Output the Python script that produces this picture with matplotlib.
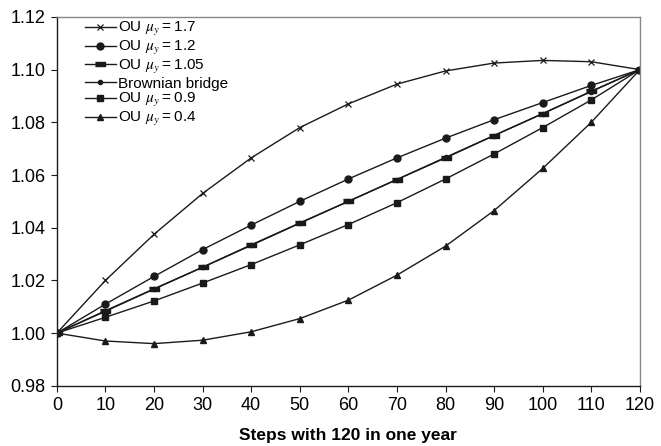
import matplotlib
matplotlib.use("Agg")
import matplotlib.pyplot as plt
from matplotlib import ticker

plt.rcParams["font.family"] = ["Liberation Sans", "DejaVu Sans"]
plt.rcParams["mathtext.fontset"] = "stix"

steps = [0, 10, 20, 30, 40, 50, 60, 70, 80, 90, 100, 110, 120]

ou_17 = [1.000, 1.020, 1.0375, 1.053, 1.0665, 1.078, 1.087, 1.0945, 1.0995, 1.1025, 1.1035, 1.103, 1.100]
ou_12 = [1.000, 1.011, 1.0215, 1.0317, 1.041, 1.050, 1.0585, 1.0665, 1.074, 1.081, 1.0875, 1.094, 1.100]
ou_105 = [1.000, 1.0085, 1.0168, 1.025, 1.0335, 1.0418, 1.050, 1.0583, 1.0665, 1.075, 1.0833, 1.0918, 1.100]
bridge = [1.000, 1.0083, 1.0167, 1.025, 1.0333, 1.0417, 1.050, 1.0583, 1.0667, 1.075, 1.0833, 1.0917, 1.100]
ou_09 = [1.000, 1.006, 1.0122, 1.019, 1.026, 1.0335, 1.0412, 1.0495, 1.0585, 1.068, 1.078, 1.0885, 1.100]
ou_04 = [1.000, 0.997, 0.996, 0.9973, 1.0005, 1.0055, 1.0125, 1.022, 1.033, 1.0465, 1.0625, 1.080, 1.100]

bar_marker = [(-2, -0.8), (2, -0.8), (2, 0.8), (-2, 0.8)]

series = [
    (ou_17, "OU $\\mu_y$\u2009=\u20091.7", dict(marker="x", ms=4.5, mew=0.9)),
    (ou_12, "OU $\\mu_y$\u2009=\u20091.2", dict(marker="o", ms=5)),
    (ou_105, "OU $\\mu_y$\u2009=\u20091.05", dict(marker=bar_marker, ms=7)),
    (bridge, "Brownian bridge", dict(marker="o", ms=3)),
    (ou_09, "OU $\\mu_y$\u2009=\u20090.9", dict(marker="s", ms=5)),
    (ou_04, "OU $\\mu_y$\u2009=\u20090.4", dict(marker="^", ms=5)),
]

fig = plt.figure(figsize=(6.61, 4.46), dpi=100)
ax = fig.add_axes([0.086, 0.135, 0.882, 0.827])

for vals, label, style in series:
    ax.plot(steps, vals, color="#1a1a1a", lw=1.0, label=label, **style)

ax.set_xlim(0, 120)
ax.set_ylim(0.98, 1.12)
ax.xaxis.set_major_locator(ticker.MultipleLocator(10))
ax.yaxis.set_major_locator(ticker.MultipleLocator(0.02))
ax.yaxis.set_major_formatter(ticker.FormatStrFormatter("%.2f"))
ax.tick_params(labelsize=13, direction="out", length=4, color="#1a1a1a")
ax.tick_params(axis="x", pad=4)
ax.tick_params(axis="y", pad=4)

ax.spines["left"].set_color("#1a1a1a")
ax.spines["bottom"].set_color("#1a1a1a")
ax.spines["top"].set_color("#888888")
ax.spines["right"].set_color("#888888")
for s in ax.spines.values():
    s.set_linewidth(1.0)

ax.set_xlabel("Steps with 120 in one year", fontsize=12.5, fontweight="bold", labelpad=10)

ax.legend(loc="upper left", bbox_to_anchor=(0.03, 1.02), frameon=False, fontsize=11,
          handlelength=2.0, handletextpad=0.15, labelspacing=0.05, borderpad=0.2)

fig.savefig("out.png", dpi=100)
